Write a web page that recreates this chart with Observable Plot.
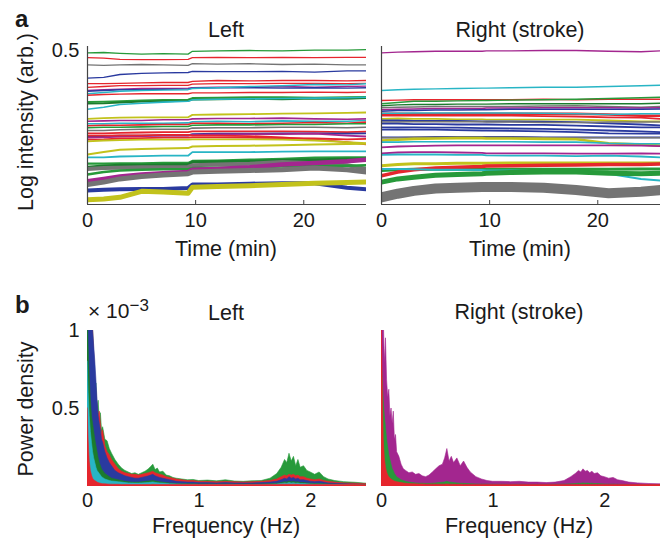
<!DOCTYPE html>
<html><head><meta charset="utf-8">
<script src="https://cdn.jsdelivr.net/npm/d3@7"></script>
<script src="https://cdn.jsdelivr.net/npm/@observablehq/plot@0.6"></script>
<style>
body{margin:0;background:#fff;}
#fig{position:relative;width:664px;height:544px;font-family:"Liberation Sans",Arial,Helvetica,sans-serif;}
#fig .p{position:absolute;}
#overlay{position:absolute;left:0;top:0;pointer-events:none;}
</style></head><body><div id="fig"></div>
<script>
// ---------- Panel a: time courses (log intensity, arb.) ----------
const TIME = [0, 1.5, 3, 5, 7, 9.3, 9.7, 12, 15, 18, 21, 24, 25.8];

const leftColorKeys = ["green","red","gray","blue","red","red","magenta","blue","cyan","red","green","dkgreen","cyan","yellow","magenta","cyan","red","green","gray","red","blue","magenta","red","red","yellow","yellow","cyan","green","dkgreen","gray","green","magenta","gray","blue","yellow"];
const leftSeries = [
 [0.494,0.495,0.493,0.491,0.492,0.491,0.498,0.499,0.500,0.499,0.501,0.501,0.502],
 [0.482,0.481,0.478,0.477,0.477,0.478,0.482,0.483,0.482,0.483,0.482,0.483,0.483],
 [0.464,0.463,0.464,0.465,0.464,0.463,0.467,0.466,0.467,0.465,0.466,0.464,0.464],
 [0.431,0.433,0.440,0.443,0.444,0.445,0.448,0.447,0.447,0.448,0.446,0.449,0.449],
 [0.417,0.417,0.418,0.419,0.420,0.420,0.423,0.425,0.424,0.425,0.425,0.424,0.425],
 [0.408,0.410,0.412,0.412,0.413,0.413,0.416,0.417,0.417,0.418,0.418,0.417,0.418],
 [0.400,0.402,0.403,0.405,0.405,0.406,0.407,0.408,0.408,0.410,0.408,0.410,0.411],
 [0.398,0.400,0.402,0.402,0.403,0.404,0.406,0.407,0.407,0.406,0.407,0.406,0.407],
 [0.392,0.395,0.398,0.400,0.401,0.402,0.405,0.407,0.410,0.412,0.415,0.414,0.417],
 [0.388,0.390,0.391,0.392,0.392,0.392,0.394,0.394,0.395,0.395,0.396,0.395,0.396],
 [0.371,0.372,0.373,0.375,0.376,0.377,0.381,0.382,0.383,0.383,0.382,0.383,0.384],
 [0.367,0.368,0.370,0.372,0.373,0.374,0.377,0.378,0.379,0.378,0.380,0.379,0.381],
 [0.353,0.358,0.365,0.368,0.371,0.373,0.377,0.378,0.379,0.380,0.381,0.382,0.383],
 [0.329,0.331,0.332,0.333,0.333,0.333,0.339,0.340,0.341,0.342,0.343,0.344,0.345],
 [0.323,0.324,0.325,0.325,0.327,0.327,0.329,0.330,0.330,0.331,0.329,0.328,0.329],
 [0.317,0.317,0.318,0.318,0.318,0.319,0.322,0.323,0.322,0.324,0.323,0.323,0.325],
 [0.312,0.313,0.313,0.314,0.315,0.315,0.318,0.318,0.317,0.318,0.320,0.318,0.321],
 [0.307,0.308,0.308,0.309,0.310,0.310,0.313,0.314,0.314,0.315,0.315,0.317,0.317],
 [0.300,0.300,0.302,0.303,0.303,0.303,0.306,0.307,0.307,0.308,0.308,0.307,0.308],
 [0.293,0.293,0.294,0.295,0.296,0.296,0.298,0.298,0.298,0.298,0.297,0.296,0.297],
 [0.285,0.286,0.287,0.287,0.288,0.288,0.291,0.292,0.292,0.293,0.293,0.292,0.293],
 [0.282,0.283,0.285,0.286,0.287,0.287,0.289,0.290,0.291,0.291,0.292,0.287,0.285],
 [0.287,0.287,0.288,0.288,0.289,0.289,0.287,0.287,0.286,0.283,0.277,0.271,0.265],
 [0.277,0.278,0.280,0.281,0.282,0.282,0.283,0.283,0.282,0.281,0.280,0.278,0.279],
 [0.273,0.275,0.276,0.277,0.277,0.277,0.278,0.278,0.278,0.277,0.275,0.271,0.268],
 [0.240,0.246,0.252,0.254,0.255,0.256,0.260,0.261,0.262,0.263,0.265,0.266,0.267],
 [0.233,0.233,0.235,0.236,0.237,0.237,0.246,0.246,0.246,0.247,0.248,0.248,0.248],
 [0.217,0.217,0.218,0.218,0.219,0.219,0.224,0.225,0.227,0.229,0.232,0.233,0.233],
 [0.208,0.211,0.213,0.213,0.214,0.215,0.221,0.222,0.223,0.225,0.227,0.228,0.229],
 [0.204,0.206,0.207,0.208,0.208,0.209,0.213,0.215,0.217,0.221,0.218,0.213,0.204],
 [0.190,0.196,0.200,0.202,0.203,0.203,0.206,0.207,0.208,0.210,0.211,0.212,0.213],
 [0.173,0.179,0.185,0.190,0.193,0.196,0.202,0.204,0.208,0.215,0.219,0.223,0.227],
 [0.165,0.171,0.179,0.185,0.189,0.192,0.196,0.198,0.200,0.202,0.206,0.202,0.196],
 [0.150,0.152,0.153,0.154,0.154,0.156,0.165,0.165,0.167,0.168,0.168,0.157,0.153],
 [0.127,0.129,0.133,0.148,0.146,0.143,0.158,0.160,0.162,0.165,0.168,0.170,0.171]
];
const leftWeights = [1.3,1.3,1.3,1.3,1.3,1.3,1.4,1.4,1.4,1.4,2,1.8,1.6,1.8,1.6,1.6,1.6,1.6,1.6,1.8,1.8,1.8,1.8,1.8,1.8,2,1.8,2.2,3,4,2.5,4.5,5,4,5];

const rightColorKeys = ["magenta","cyan","red","green","dkgreen","gray","magenta","blue","red","red","cyan","yellow","blue","gray","blue","blue","blue","blue","gray","yellow","cyan","magenta","magenta","cyan","green","yellow","red","cyan","green","gray"];
const rightSeries = [
 [0.494,0.496,0.497,0.498,0.498,0.498,0.499,0.499,0.500,0.500,0.498,0.497,0.499],
 [0.400,0.402,0.403,0.404,0.405,0.406,0.406,0.407,0.408,0.408,0.410,0.412,0.413],
 [0.375,0.376,0.377,0.377,0.377,0.377,0.377,0.377,0.378,0.377,0.378,0.378,0.378],
 [0.367,0.370,0.373,0.373,0.374,0.375,0.375,0.376,0.377,0.378,0.380,0.382,0.383],
 [0.362,0.364,0.365,0.365,0.366,0.366,0.366,0.367,0.367,0.367,0.367,0.367,0.368],
 [0.357,0.358,0.359,0.360,0.360,0.360,0.360,0.360,0.361,0.362,0.360,0.358,0.360],
 [0.352,0.353,0.354,0.355,0.355,0.355,0.356,0.356,0.357,0.357,0.357,0.356,0.357],
 [0.348,0.350,0.350,0.351,0.351,0.352,0.352,0.353,0.353,0.353,0.353,0.353,0.354],
 [0.342,0.342,0.341,0.341,0.342,0.342,0.342,0.342,0.342,0.342,0.340,0.337,0.337],
 [0.337,0.337,0.337,0.337,0.337,0.337,0.337,0.337,0.336,0.335,0.333,0.332,0.329],
 [0.343,0.343,0.344,0.344,0.344,0.344,0.344,0.344,0.343,0.342,0.340,0.342,0.342],
 [0.329,0.330,0.329,0.329,0.328,0.328,0.327,0.327,0.327,0.327,0.325,0.323,0.323],
 [0.325,0.325,0.324,0.324,0.324,0.323,0.323,0.323,0.322,0.321,0.318,0.315,0.313],
 [0.321,0.321,0.322,0.322,0.322,0.322,0.321,0.321,0.320,0.320,0.321,0.321,0.321],
 [0.317,0.317,0.316,0.316,0.315,0.315,0.315,0.314,0.314,0.312,0.310,0.308,0.308],
 [0.308,0.308,0.308,0.307,0.307,0.306,0.306,0.305,0.304,0.302,0.300,0.298,0.296],
 [0.302,0.303,0.302,0.302,0.301,0.300,0.300,0.299,0.298,0.296,0.293,0.292,0.292],
 [0.283,0.283,0.283,0.284,0.284,0.284,0.284,0.284,0.283,0.283,0.283,0.283,0.283],
 [0.282,0.282,0.283,0.283,0.283,0.283,0.283,0.283,0.282,0.282,0.282,0.282,0.282],
 [0.275,0.277,0.279,0.280,0.281,0.281,0.280,0.280,0.279,0.278,0.268,0.265,0.262],
 [0.271,0.271,0.272,0.272,0.272,0.272,0.272,0.272,0.271,0.271,0.268,0.267,0.267],
 [0.258,0.260,0.261,0.262,0.263,0.263,0.263,0.263,0.263,0.263,0.263,0.262,0.261],
 [0.243,0.245,0.246,0.246,0.245,0.244,0.243,0.243,0.243,0.242,0.242,0.243,0.242],
 [0.239,0.240,0.240,0.240,0.239,0.239,0.238,0.237,0.237,0.236,0.237,0.235,0.233],
 [0.200,0.202,0.203,0.203,0.203,0.203,0.203,0.203,0.203,0.203,0.203,0.204,0.204],
 [0.212,0.215,0.217,0.217,0.218,0.218,0.218,0.219,0.219,0.219,0.219,0.219,0.219],
 [0.187,0.196,0.202,0.206,0.208,0.210,0.211,0.212,0.213,0.214,0.215,0.215,0.216],
 [0.204,0.204,0.203,0.202,0.202,0.201,0.200,0.200,0.198,0.196,0.192,0.179,0.175],
 [0.171,0.179,0.183,0.188,0.190,0.192,0.193,0.195,0.196,0.196,0.193,0.192,0.193],
 [0.133,0.142,0.149,0.155,0.157,0.159,0.159,0.159,0.157,0.151,0.143,0.147,0.151]
];
const rightWeights = [1.4,1.4,1.4,1.4,1.4,1.5,1.5,1.5,2.5,1.8,1.5,1.8,1.8,1.5,1.8,1.8,1.8,1.8,1.5,2.6,1.6,1.8,1.8,1.8,3,3,3.5,2,5,10];

// ---------- Panel b: power spectra (x 10^-3) ----------
const FREQ = [0,0.01,0.02,0.03,0.04,0.05,0.06,0.07,0.08,0.09,
 0.10,0.11,0.12,0.13,0.14,0.16,0.18,0.20,0.22,0.25,
 0.28,0.31,0.34,0.37,0.40,0.43,0.46,0.49,0.52,0.55,
 0.57,0.59,0.61,0.63,0.65,0.68,0.71,0.74,0.77,0.80,
 0.85,0.90,0.95,1.00,1.08,1.16,1.24,1.32,1.40,1.48,
 1.56,1.64,1.70,1.74,1.77,1.79,1.81,1.83,1.85,1.87,
 1.89,1.91,1.94,1.97,2.00,2.04,2.08,2.12,2.16,2.22,
 2.30,2.40,2.50];

const leftSpecKeys = ["green","red","blue","dkgreen","cyan","red"];
const leftSpectra = [
 [1.2,1.2,1.2,1.2,1.1,1.0,0.82,0.6,0.66,0.5,
  0.55,0.42,0.47,0.36,0.38,0.3,0.29,0.24,0.21,0.17,
  0.14,0.115,0.1,0.09,0.08,0.085,0.075,0.085,0.095,0.11,
  0.125,0.14,0.105,0.115,0.09,0.095,0.07,0.065,0.055,0.05,
  0.045,0.04,0.042,0.035,0.038,0.033,0.04,0.032,0.03,0.034,
  0.035,0.05,0.08,0.12,0.17,0.15,0.21,0.16,0.19,0.13,
  0.17,0.12,0.13,0.1,0.09,0.075,0.09,0.06,0.045,0.035,
  0.028,0.024,0.018],
 [1.2,1.2,1.2,1.2,1.1,1.0,0.85,0.7,0.6,0.52,
  0.45,0.48,0.4,0.33,0.36,0.26,0.22,0.2,0.17,0.14,
  0.11,0.095,0.085,0.08,0.075,0.075,0.07,0.075,0.08,0.085,
  0.09,0.095,0.085,0.08,0.075,0.07,0.06,0.055,0.05,0.045,
  0.04,0.035,0.035,0.03,0.03,0.028,0.03,0.028,0.026,0.028,
  0.03,0.035,0.045,0.06,0.07,0.065,0.075,0.07,0.075,0.065,
  0.07,0.06,0.06,0.05,0.045,0.04,0.045,0.035,0.03,0.025,
  0.02,0.018,0.015],
 [1.2,1.2,1.2,1.2,1.1,1.0,0.9,0.8,0.68,0.55,
  0.45,0.4,0.36,0.3,0.28,0.22,0.18,0.15,0.13,0.1,
  0.085,0.075,0.065,0.06,0.055,0.05,0.05,0.055,0.06,0.065,
  0.07,0.075,0.065,0.06,0.055,0.05,0.045,0.04,0.035,0.03,
  0.028,0.025,0.025,0.022,0.022,0.02,0.022,0.02,0.02,0.02,
  0.022,0.025,0.03,0.04,0.05,0.045,0.06,0.05,0.055,0.045,
  0.05,0.04,0.04,0.035,0.03,0.028,0.03,0.025,0.02,0.018,
  0.015,0.012,0.01],
 [1.2,0.9,0.7,0.55,0.45,0.4,0.35,0.3,0.26,0.22,
  0.18,0.15,0.13,0.11,0.1,0.08,0.07,0.06,0.05,0.045,
  0.04,0.035,0.03,0.028,0.025,0.025,0.025,0.027,0.03,0.032,
  0.034,0.036,0.032,0.03,0.027,0.025,0.022,0.02,0.018,0.016,
  0.015,0.014,0.014,0.013,0.013,0.012,0.013,0.012,0.012,0.012,
  0.013,0.015,0.018,0.022,0.028,0.025,0.032,0.027,0.03,0.025,
  0.027,0.022,0.022,0.02,0.018,0.016,0.017,0.015,0.013,0.011,
  0.01,0.009,0.008],
 [0.8,0.6,0.45,0.35,0.28,0.22,0.18,0.15,0.12,0.1,
  0.09,0.08,0.07,0.06,0.055,0.045,0.04,0.035,0.032,0.03,
  0.027,0.025,0.022,0.02,0.02,0.019,0.019,0.02,0.021,0.022,
  0.024,0.026,0.023,0.021,0.02,0.019,0.017,0.015,0.014,0.013,
  0.012,0.011,0.011,0.01,0.01,0.01,0.01,0.01,0.009,0.009,
  0.01,0.011,0.013,0.016,0.02,0.018,0.022,0.019,0.021,0.018,
  0.019,0.016,0.016,0.014,0.013,0.012,0.012,0.011,0.01,0.009,
  0.008,0.007,0.006],
 [0.5,0.3,0.16,0.1,0.07,0.05,0.04,0.035,0.03,0.025,
  0.022,0.02,0.018,0.016,0.015,0.014,0.013,0.012,0.012,0.011,
  0.011,0.01,0.01,0.01,0.01,0.01,0.01,0.01,0.01,0.01,
  0.01,0.011,0.01,0.01,0.01,0.01,0.01,0.01,0.01,0.01,
  0.01,0.01,0.01,0.01,0.01,0.01,0.01,0.01,0.01,0.01,
  0.01,0.01,0.01,0.011,0.012,0.011,0.012,0.011,0.012,0.011,
  0.011,0.01,0.01,0.01,0.01,0.01,0.01,0.01,0.01,0.009,
  0.009,0.009,0.008]
];

const rightSpecKeys = ["magenta","green","blue","red"];
const rightSpectra = [
 [1.2,1.2,1.1,0.79,0.95,0.68,0.57,0.62,0.45,0.5,
  0.4,0.48,0.3,0.33,0.22,0.19,0.14,0.11,0.1,0.085,
  0.09,0.075,0.08,0.065,0.06,0.07,0.09,0.11,0.13,0.14,
  0.18,0.24,0.16,0.19,0.15,0.18,0.13,0.16,0.12,0.09,
  0.06,0.045,0.035,0.03,0.03,0.028,0.03,0.025,0.025,0.022,
  0.025,0.035,0.06,0.08,0.1,0.09,0.11,0.095,0.1,0.085,
  0.095,0.08,0.085,0.065,0.06,0.05,0.055,0.04,0.035,0.025,
  0.02,0.016,0.014],
 [0.85,0.7,0.55,0.45,0.38,0.3,0.25,0.2,0.17,0.14,
  0.11,0.1,0.08,0.07,0.06,0.05,0.04,0.035,0.03,0.025,
  0.022,0.02,0.018,0.018,0.017,0.017,0.018,0.02,0.022,0.024,
  0.026,0.03,0.025,0.024,0.022,0.02,0.018,0.017,0.016,0.015,
  0.013,0.012,0.012,0.011,0.011,0.01,0.011,0.01,0.01,0.01,
  0.011,0.012,0.014,0.016,0.018,0.017,0.02,0.018,0.019,0.017,
  0.018,0.016,0.016,0.014,0.013,0.012,0.012,0.011,0.01,0.009,
  0.008,0.007,0.007],
 [0.3,0.15,0.1,0.07,0.05,0.04,0.03,0.025,0.02,0.018,
  0.016,0.015,0.014,0.013,0.012,0.011,0.01,0.01,0.009,0.009,
  0.008,0.008,0.008,0.008,0.008,0.008,0.008,0.008,0.008,0.008,
  0.008,0.008,0.008,0.008,0.008,0.008,0.008,0.008,0.008,0.008,
  0.008,0.008,0.008,0.008,0.008,0.008,0.008,0.008,0.008,0.008,
  0.008,0.008,0.008,0.008,0.008,0.008,0.008,0.008,0.008,0.008,
  0.008,0.008,0.008,0.008,0.008,0.008,0.008,0.008,0.008,0.008,
  0.007,0.007,0.007],
 [1.2,0.7,0.3,0.18,0.12,0.09,0.07,0.06,0.05,0.045,
  0.04,0.035,0.032,0.03,0.028,0.025,0.022,0.02,0.018,0.016,
  0.015,0.014,0.013,0.013,0.012,0.012,0.012,0.012,0.012,0.012,
  0.012,0.013,0.012,0.012,0.011,0.011,0.011,0.01,0.01,0.01,
  0.01,0.01,0.01,0.01,0.01,0.01,0.01,0.01,0.01,0.01,
  0.01,0.01,0.01,0.01,0.01,0.01,0.01,0.01,0.01,0.01,
  0.01,0.01,0.01,0.01,0.01,0.01,0.01,0.01,0.01,0.01,
  0.009,0.009,0.009]
];

const timeTicks = [0, 10, 20];
const freqTicks = [0, 1, 2];
const intensityTicks = [0.5];
const powerTicks = [0.5, 1];

// ---------- styling ----------
const PALETTE = {green:"#279a3a", dkgreen:"#1b7c2d", red:"#e5262d", gray:"#747474", blue:"#2a3a9f", magenta:"#a3268f", cyan:"#28b5c5", yellow:"#c2c21c"};
const FONT = '"Liberation Sans", Arial, Helvetica, sans-serif';
const AXC = "#444";
const TIME_DOMAIN = [0, 25.8];
const INT_DOMAIN = [0.115, 0.51];

function linesFor(series, keys, weights) {
  return series.map((s, i) => Plot.line(s.map((v, j) => ({t: TIME[j], v})), {
    x: "t", y: "v", stroke: PALETTE[keys[i]], strokeWidth: weights[i], clip: true, strokeLinejoin: "round"
  }));
}
function areasFor(spectra, keys) {
  return spectra.map((s, i) => Plot.areaY(s.map((p, j) => ({f: FREQ[j], p})), {
    x: "f", y: "p", fill: PALETTE[keys[i]], stroke: PALETTE[keys[i]], strokeWidth: 0.6, clip: true
  }));
}
const baseStyle = {fontFamily: FONT, fontSize: "20px", color: "#1a1a1a", background: "transparent", overflow: "visible"};

function panelA(series, keys, weights, isLeft) {
  const W = isLeft ? 372 : 292;
  const ml = isLeft ? 87 : 9;
  const mr = isLeft ? 6 : 4;
  const innerH = 270 - 46 - 66;
  const marks = [
    ...linesFor(series, keys, weights),
    Plot.ruleX([0], {stroke: AXC, strokeWidth: 1.2}),
    Plot.ruleY([INT_DOMAIN[0]], {stroke: AXC, strokeWidth: 1.2}),
    Plot.tickX(timeTicks.slice(1), {x: d => d, stroke: AXC, insetTop: innerH - 4}),
    Plot.axisX({ticks: timeTicks, tickSize: 0, tickPadding: 8, label: null, tickFormat: d => String(d)})
  ];
  if (isLeft) marks.push(Plot.axisY({ticks: intensityTicks, tickSize: 0, tickPadding: 8, label: null, tickFormat: d => String(d)}));
  return Plot.plot({
    width: W, height: 270, marginLeft: ml, marginRight: mr, marginTop: 46, marginBottom: 66,
    x: {domain: TIME_DOMAIN}, y: {domain: INT_DOMAIN, axis: isLeft ? undefined : null},
    style: baseStyle, marks
  });
}
function panelB(spectra, keys, isLeft) {
  const W = isLeft ? 372 : 292;
  const ml = isLeft ? 87 : 9;
  const mr = isLeft ? 6 : 4;
  const marks = [
    ...areasFor(spectra, keys),
    Plot.axisX({ticks: freqTicks, tickSize: 0, tickPadding: 6, label: null, tickFormat: d => String(d)})
  ];
  if (isLeft) marks.push(Plot.axisY({ticks: powerTicks, tickSize: 0, tickPadding: 8, label: null, tickFormat: d => String(d)}));
  return Plot.plot({
    width: W, height: 274, marginLeft: ml, marginRight: mr, marginTop: 60, marginBottom: 58,
    x: {domain: [0, 2.5]}, y: {domain: [0, 1], axis: isLeft ? undefined : null},
    style: baseStyle, marks
  });
}

const fig = document.getElementById("fig");
function place(el, left, top) {
  const d = document.createElement("div");
  d.className = "p"; d.style.left = left + "px"; d.style.top = top + "px";
  d.appendChild(el); fig.appendChild(d);
}
place(panelA(leftSeries, leftColorKeys, leftWeights, true), 0, 0);
place(panelA(rightSeries, rightColorKeys, rightWeights, false), 372, 0);
place(panelB(leftSpectra, leftSpecKeys, true), 0, 270);
place(panelB(rightSpectra, rightSpecKeys, false), 372, 270);

// ---------- text overlay ----------
const NS = "http://www.w3.org/2000/svg";
const ov = document.createElementNS(NS, "svg");
ov.setAttribute("id", "overlay"); ov.setAttribute("width", 664); ov.setAttribute("height", 544);
ov.setAttribute("font-family", FONT);
fig.appendChild(ov);
function txt(s, x, y, o = {}) {
  const t = document.createElementNS(NS, "text");
  t.setAttribute("x", x); t.setAttribute("y", y);
  t.setAttribute("font-size", o.size || 21.5);
  t.setAttribute("fill", "#1a1a1a");
  t.setAttribute("text-anchor", o.anchor || "middle");
  if (o.weight) t.setAttribute("font-weight", o.weight);
  if (o.rotate) t.setAttribute("transform", `rotate(-90 ${x} ${y})`);
  t.textContent = s;
  ov.appendChild(t);
  return t;
}
txt("a", 15, 27, {size: 24, weight: "bold", anchor: "start"});
txt("Left", 226, 37);
txt("Right (stroke)", 520, 37);
txt("Time (min)", 226, 256);
txt("Time (min)", 520, 256);
txt("Log intensity (arb.)", 33, 122, {rotate: true});
txt("b", 15, 313, {size: 24, weight: "bold", anchor: "start"});
txt("Left", 226, 320);
txt("Right (stroke)", 519, 319);
txt("Frequency (Hz)", 226, 533);
txt("Frequency (Hz)", 519, 533);
txt("Power density", 33, 409, {rotate: true});
const ex = txt("× 10", 88, 318, {anchor: "start", size: 21});
const sup = document.createElementNS(NS, "tspan");
sup.setAttribute("dy", -7); sup.setAttribute("font-size", 17);
sup.textContent = "−3";
ex.appendChild(sup);
</script></body></html>
